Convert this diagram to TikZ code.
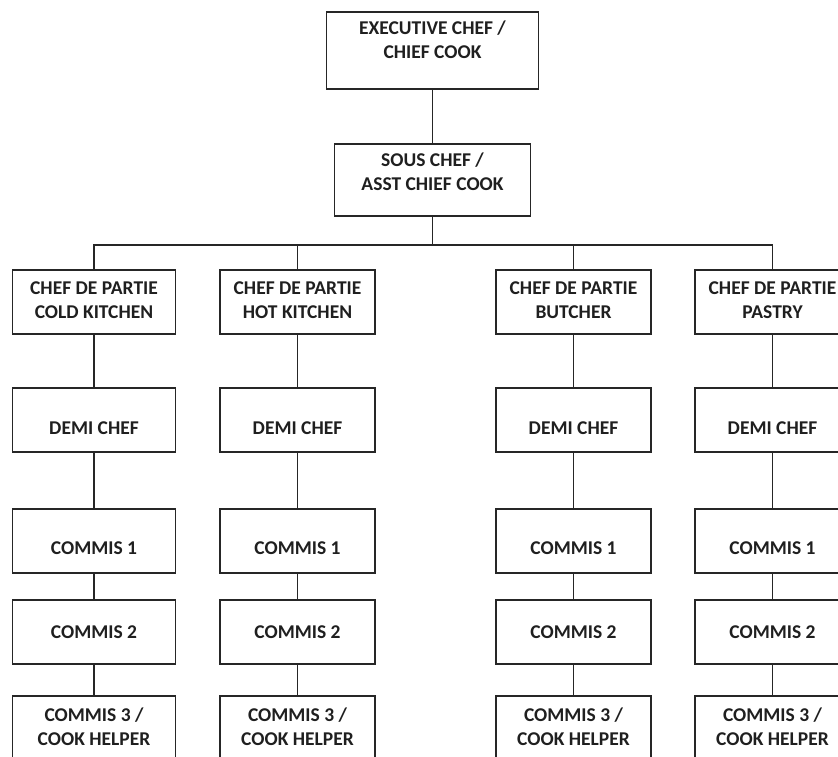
\documentclass[tikz,border=0pt]{standalone}
\usepackage{fontspec}
\setmainfont{Carlito}
\begin{document}
\begin{tikzpicture}[x=1pt,y=-1pt,
  box/.style={draw=black!85, line width=1.7pt, rectangle, inner sep=0pt, minimum height=64},
  lbl/.style={font=\bfseries\fontsize{19.5}{24}\selectfont, text=black!88, align=center, inner sep=0pt},
  link/.style={draw=black!85, line width=1.6pt}]
\useasboundingbox (0,0) rectangle (838,756);
% top
\node[box, minimum width=212, minimum height=77] (exec) at (432.5,50.5) {};
\node[lbl] (execT) at (432.5,39.5) {EXECUTIVE CHEF /\\CHIEF COOK};
\node[box, minimum width=196, minimum height=72] (sous) at (432.5,180) {};
\node[lbl] (sousT) at (432.5,172) {SOUS CHEF /\\ASST CHIEF COOK};
\coordinate (bus) at (432.5,245);
% columns
\foreach \i/\x/\w/\sub in {1/94/163/COLD KITCHEN, 2/297.5/155/HOT KITCHEN, 3/573.5/155/BUTCHER, 4/772.5/155/PASTRY}{
  \node[box, minimum width=\w] (c\i a) at (\x,302) {};
  \node[lbl] (c\i aT) at (\x,300) {CHEF DE PARTIE\\\sub};
  \node[box, minimum width=\w] (c\i b) at (\x,420) {};
  \node[lbl] (c\i bT) at (\x,428) {DEMI CHEF};
  \node[box, minimum width=\w] (c\i c) at (\x,541) {};
  \node[lbl] (c\i cT) at (\x,548) {COMMIS 1};
  \node[box, minimum width=\w] (c\i d) at (\x,632) {};
  \node[lbl] (c\i dT) at (\x,632) {COMMIS 2};
  \node[box, minimum width=\w] (c\i e) at (\x,728) {};
  \node[lbl] (c\i eT) at (\x,726.5) {COMMIS 3 /\\COOK HELPER};
  \draw[link] (c\i a.south) -- (c\i b.north);
  \draw[link] (c\i b.south) -- (c\i c.north);
  \draw[link] (c\i c.south) -- (c\i d.north);
  \draw[link] (c\i d.south) -- (c\i e.north);
}
\draw[link] (exec.south) -- (sous.north);
\draw[link] (sous.south) -- (bus);
\draw[link] (c1a.north) |- (bus) -| (c4a.north);
\draw[link] (c2a.north) -- (c2a.north |- bus);
\draw[link] (c3a.north) -- (c3a.north |- bus);
\end{tikzpicture}
\end{document}
